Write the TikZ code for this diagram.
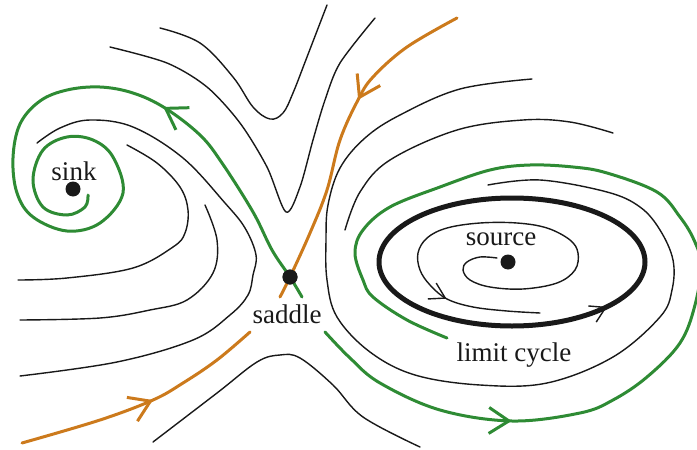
\documentclass[tikz,border=0pt]{standalone}
\usepackage{fontspec}
\setmainfont{Liberation Serif}
\usetikzlibrary{arrows.meta,decorations.markings}
\definecolor{sepgreen}{RGB}{46,139,52}
\definecolor{seporange}{RGB}{204,122,28}
\definecolor{ink}{RGB}{25,25,25}
\tikzset{
  flowline/.style={draw=ink,line width=1.4pt,line cap=round},
  sepline/.style={draw=#1,line width=3pt,line cap=round},
  sepline/.default=sepgreen,
  cycleline/.style={draw=ink,line width=5pt},
  fixpt/.style={circle,fill=ink,inner sep=0pt,minimum size=15pt},
  lbl/.style={font=\fontsize{27}{30}\selectfont,text=ink,anchor=base,inner sep=0pt},
  % chevrons in the middle of a path
  barb/.style={postaction={decorate,decoration={markings,
    mark=at position #1 with {\arrow{Straight Barb[length=20pt,width=26pt]}}}}},
  thinbarb/.style={postaction={decorate,decoration={markings,
    mark=at position #1 with {\arrow[ink]{Straight Barb[length=15pt,width=18pt,line width=1.4pt]}}}}},
}

\begin{document}
\begin{tikzpicture}[x=1pt,y=-1pt]
  \useasboundingbox (0,0) rectangle (697,450);
  \clip (0,0) rectangle (697,450);

  % fixed points and labels
  \node[fixpt] (sink) at (73,189) {};
  \node[fixpt] (saddle) at (290,277) {};
  \node[fixpt] (source) at (508,262) {};
  \node[lbl] (sinklbl) at (74,180) {sink};
  \node[lbl] (saddlelbl) at (287,323) {saddle};
  \node[lbl] (sourcelbl) at (501,245) {source};
  \node[lbl] (cyclelbl) at (514,361) {limit cycle};

  % black trajectories
  \draw[flowline] plot[smooth,tension=0.6] coordinates {(160,28) (200,43) (233,77) (253,107) (270,119) (283,113) (293,93) (307,57) (327,5)};
  \draw[flowline] plot[smooth,tension=0.5] coordinates {(110,47) (167,63) (207,87) (240,123) (267,167) (286,212) (300,187) (313,140) (325,100) (340,63) (375,18)};
  \draw[flowline] plot[smooth,tension=0.6] coordinates {(37,143) (60,128) (90,120) (133,127) (183,158) (225,203) (245,228) (256,255) (253,275) (248,295) (230,315) (193,340) (117,362) (20,376)};
  \draw[flowline] plot[smooth,tension=0.6] coordinates {(127,145) (157,163) (180,187) (188,210) (185,233) (173,247) (133,268) (67,278) (18,280)};
  \draw[flowline] plot[smooth,tension=0.6] coordinates {(205,205) (217,240) (213,273) (187,300) (150,310) (100,318) (20,320)};
  \draw[flowline] plot[smooth,tension=0.6] coordinates {(488,185) (540,180) (607,192) (640,207) (660,230) (673,260) (672,290) (660,317) (613,357) (547,383) (480,385) (415,375) (370,352) (337,317) (327,280) (326,240) (328,205) (340,168) (365,138) (400,115) (460,89) (532,79)};
  \draw[flowline] plot[smooth,tension=0.6] coordinates {(613,133) (570,122) (523,120) (457,130) (390,160) (360,192) (345,230)};
  \draw[flowline] plot[smooth,tension=0.6] coordinates {(153,442) (217,393) (257,362) (280,355) (300,358) (333,385) (363,417) (420,447)};

  % spiral out of the source
  \draw[flowline,thinbarb=0.816] plot[smooth,tension=0.6] coordinates {(497,258) (480,257) (467,262) (463,270) (470,280) (490,287) (523,289) (557,283) (575,270) (578,253) (570,240) (547,228) (517,223) (480,223) (447,228) (427,238) (418,253) (420,270) (430,285) (447,299) (473,307) (507,311) (540,313)};

  % limit cycle
  \draw[cycleline,thinbarb=0.403] (379,262) arc[start angle=180,end angle=-180,x radius=133,y radius=64];

  % separatrices of the saddle
  \draw[sepline,barb=0.281] plot[smooth,tension=0.6] coordinates {(302,297) (saddle.center) (272,250) (253,212) (222,163) (200,135) (165,108) (133,93) (100,87) (67,90) (40,101) (20,124) (13,158) (17,193) (33,217) (67,231) (100,223) (123,193) (113,157) (93,140) (67,137) (43,150) (33,180) (43,207) (67,215) (85,207) (88,195)};
  \draw[sepline,barb=0.204] plot[smooth,tension=0.6] coordinates {(325,332) (350,358) (380,383) (440,410) (512,421) (580,413) (613,400) (647,377) (680,343) (695,305) (701,265) (694,240) (680,217) (657,192) (607,173) (573,167) (530,165) (490,170) (440,187) (390,207) (363,230) (355,253) (363,280) (373,297) (407,320) (447,338)};
  \draw[sepline=seporange,barb=0.38] plot[smooth,tension=0.6] coordinates {(457,18) (407,47) (373,77) (358,100) (340,140) (327,190) (310,233) (saddle.center) (280,297)};
  \draw[sepline=seporange,barb=0.537] plot[smooth,tension=0.6] coordinates {(22,443) (100,420) (153,400) (183,383) (217,360) (250,332)};

  % dots on top
  \fill[ink] (saddle) circle[radius=7.5];
\end{tikzpicture}
\end{document}
